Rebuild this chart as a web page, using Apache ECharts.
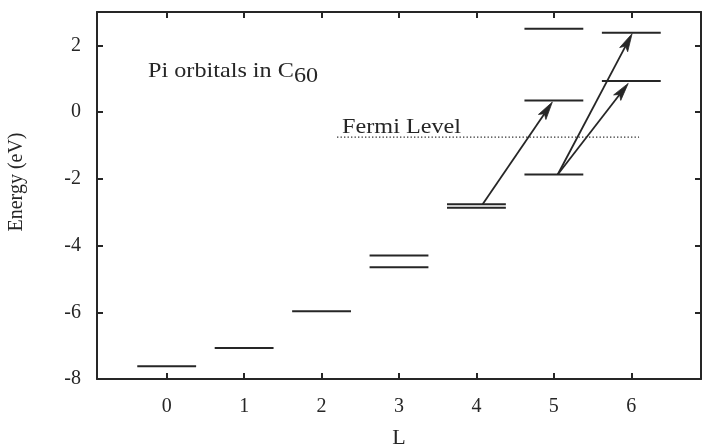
<!DOCTYPE html>
<html>
<head>
<meta charset="utf-8">
<script src="https://cdn.jsdelivr.net/npm/echarts@6/dist/echarts.min.js"></script>
<style>
  html, body { margin: 0; padding: 0; background: #fff; }
  #chart { width: 702px; height: 447px; }
</style>
</head>
<body>
<div id="chart"></div>
<script>
// Angular momentum L of each pi level and its energy (eV)
const levelL = [0, 1, 2, 3, 3, 4, 4, 5, 5, 5, 6, 6];
const levelE = [-7.62, -7.07, -5.97, -4.30, -4.65, -2.76, -2.87, 2.50, 0.35, -1.87, 2.38, 0.93];

// Transitions drawn as arrows: start (L, E) -> end (L, E)
const arrowFromL = [4.08, 5.05, 5.05];
const arrowFromE = [-2.76, -1.87, -1.87];
const arrowToL = [4.98, 6.01, 5.96];
const arrowToE = [0.30, 2.35, 0.86];

// Fermi level
const fermiE = -0.75;
const fermiSpanL = [2.2, 6.1];

// Axis ticks
const xTicks = [0, 1, 2, 3, 4, 5, 6];
const yTicks = [-8, -6, -4, -2, 0, 2];

const INK = '#262626';
const SERIF = '"Liberation Serif", "DejaVu Serif", serif';
const HALF_WIDTH = 0.38;   // half length of a level bar, in L units
const WIDE = 1.1;          // horizontal stretch of the serif annotation text

const chart = echarts.init(document.getElementById('chart'), null, { renderer: 'canvas' });

function frameAxis(extra) {
  return Object.assign({
    axisLine: { show: true, onZero: false, lineStyle: { color: INK, width: 2 } },
    splitLine: { show: false }
  }, extra);
}

function ticks(values) {
  return { show: true, inside: true, length: 6, customValues: values, lineStyle: { color: INK, width: 2 } };
}

const option = {
  animation: false,
  backgroundColor: '#fff',
  grid: { left: 97, right: 1, top: 12, bottom: 68, containLabel: false, outerBoundsMode: 'none' },
  xAxis: [
    frameAxis({
      type: 'value', position: 'bottom', min: -0.9, max: 6.9,
      axisTick: ticks(xTicks),
      axisLabel: { show: true, customValues: xTicks, margin: 18, fontFamily: SERIF, fontSize: 20, color: INK },
      name: 'L', nameLocation: 'middle', nameGap: 48,
      nameTextStyle: { fontFamily: SERIF, fontSize: 22, color: INK }
    }),
    frameAxis({
      type: 'value', position: 'top', min: -0.9, max: 6.9,
      axisTick: ticks(xTicks),
      axisLabel: { show: false }
    })
  ],
  yAxis: [
    frameAxis({
      type: 'value', position: 'left', min: -8, max: 3,
      axisTick: ticks(yTicks),
      axisLabel: { show: true, customValues: yTicks, margin: 16, fontFamily: SERIF, fontSize: 20, color: INK }
    }),
    frameAxis({
      type: 'value', position: 'right', min: -8, max: 3,
      axisTick: ticks(yTicks),
      axisLabel: { show: false }
    })
  ],
  graphic: [
    {
      type: 'text', x: 27, y: 182, rotation: Math.PI / 2,
      style: { text: 'Energy (eV)', font: '20px ' + SERIF, fill: INK, textAlign: 'center', textVerticalAlign: 'bottom' }
    },
    {
      type: 'text', x: 148, y: 87, scaleX: WIDE,
      style: {
        text: 'Pi orbitals in C{sub|60}', font: '22px ' + SERIF, fill: INK, textVerticalAlign: 'bottom',
        rich: { sub: { font: '22px ' + SERIF, fill: INK, padding: [9, 0, 0, 0], verticalAlign: 'top' } }
      }
    }
  ],
  series: [
    {
      // energy levels: short horizontal bars centred on each L
      type: 'custom',
      coordinateSystem: 'cartesian2d',
      data: levelL.map((l, i) => [l, levelE[i]]),
      renderItem: function (params, api) {
        const l = api.value(0), e = api.value(1);
        const a = api.coord([l - HALF_WIDTH, e]);
        const b = api.coord([l + HALF_WIDTH, e]);
        return {
          type: 'line',
          shape: { x1: a[0], y1: a[1], x2: b[0], y2: b[1] },
          style: { stroke: INK, lineWidth: 2 }
        };
      },
      silent: true
    },
    {
      // Fermi level (dotted) with its label
      type: 'custom',
      coordinateSystem: 'cartesian2d',
      data: [[fermiSpanL[0], fermiE, fermiSpanL[1]]],
      renderItem: function (params, api) {
        const a = api.coord([api.value(0), api.value(1)]);
        const b = api.coord([api.value(2), api.value(1)]);
        return {
          type: 'group',
          children: [
            {
              type: 'line',
              shape: { x1: a[0], y1: a[1], x2: b[0], y2: b[1] },
              style: { stroke: INK, lineWidth: 1.3, lineDash: [1.3, 2.2] }
            },
            {
              type: 'text', x: a[0] + 5, y: a[1] + 1, scaleX: WIDE,
              style: { text: 'Fermi Level', font: '22px ' + SERIF, fill: INK, textVerticalAlign: 'bottom' }
            }
          ]
        };
      },
      silent: true
    },
    {
      // transition arrows
      type: 'custom',
      coordinateSystem: 'cartesian2d',
      data: arrowFromL.map((l, i) => [l, arrowFromE[i], arrowToL[i], arrowToE[i]]),
      renderItem: function (params, api) {
        const p = api.coord([api.value(0), api.value(1)]);
        const q = api.coord([api.value(2), api.value(3)]);
        const dx = q[0] - p[0], dy = q[1] - p[1];
        const len = Math.sqrt(dx * dx + dy * dy);
        const ux = dx / len, uy = dy / len;
        const nx = -uy, ny = ux;
        const headLen = 18, headHalf = 4.5, notch = 14;
        const b1 = [q[0] - ux * headLen + nx * headHalf, q[1] - uy * headLen + ny * headHalf];
        const b2 = [q[0] - ux * headLen - nx * headHalf, q[1] - uy * headLen - ny * headHalf];
        const n = [q[0] - ux * notch, q[1] - uy * notch];
        return {
          type: 'group',
          children: [
            {
              type: 'line',
              shape: { x1: p[0], y1: p[1], x2: n[0], y2: n[1] },
              style: { stroke: INK, lineWidth: 1.8 }
            },
            {
              type: 'polygon',
              shape: { points: [q, b1, n, b2] },
              style: { fill: INK, stroke: INK, lineWidth: 0.8 }
            }
          ]
        };
      },
      silent: true
    }
  ]
};

chart.setOption(option);
</script>
</body>
</html>
